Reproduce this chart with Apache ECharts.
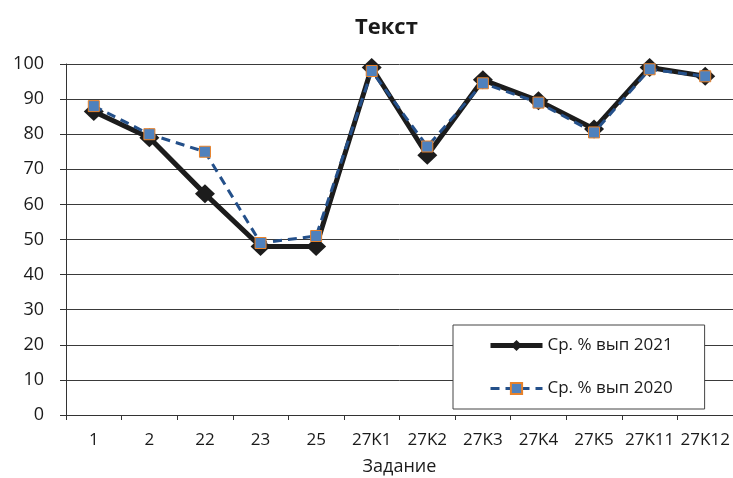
<!DOCTYPE html>
<html>
<head>
<meta charset="utf-8">
<script src="https://cdn.jsdelivr.net/npm/echarts@6/dist/echarts.min.js"></script>
<style>html,body{margin:0;padding:0;background:#fff}#c{width:733px;height:478px}</style>
</head>
<body>
<div id="c"></div>
<script>
const categories = ['1','2','22','23','25','27K1','27K2','27K3','27K4','27K5','27K11','27K12'];
const values2021 = [86.5, 79, 63, 48, 48, 99, 74, 95.5, 89.5, 81.5, 99, 96.5];
const values2020 = [88, 80, 75, 49, 51, 98, 76.5, 94.5, 89, 80.5, 98.5, 96.5];
const yTicks = [0,10,20,30,40,50,60,70,80,90,100];
const seriesNames = ['Ср. % вып 2021', 'Ср. % вып 2020'];

const font = '"Open Sans", "Noto Sans", sans-serif';
const chart = echarts.init(document.getElementById('c'), null, {renderer:'canvas'});
chart.setOption({
  animation: false,
  backgroundColor: '#fff',
  title: {
    text: 'Текст', left: 350, top: 12,
    textStyle: {fontFamily: font, fontSize: 22, fontWeight: 'bold', color: '#1a1a1a'}
  },
  legend: {
    orient: 'vertical', left: 453, top: 325,
    padding: [12, 32, 12, 35], itemGap: 26,
    itemWidth: 52, itemHeight: 14,
    backgroundColor: '#fff', borderColor: '#444', borderWidth: 1,
    textStyle: {fontFamily: font, fontSize: 17, color: '#1a1a1a'},
    data: [
      {name: seriesNames[0], lineStyle: {width: 5, color: '#1c1c1c'}},
      {name: seriesNames[1], lineStyle: {width: 3, color: '#24508a', type: [9, 6]}}
    ]
  },
  grid: {left: 66, right: 0, top: 64, bottom: 63, containLabel: false, outerBoundsMode: 'none'},
  xAxis: {
    type: 'category', data: categories, boundaryGap: true,
    name: 'Задание', nameLocation: 'middle', nameGap: 43,
    nameTextStyle: {fontFamily: font, fontSize: 18, color: '#1a1a1a'},
    axisLine: {lineStyle: {color: '#333', width: 1}},
    axisTick: {show: true, length: 5, alignWithLabel: false, lineStyle: {color: '#333'}},
    axisLabel: {interval: 0, fontFamily: font, fontSize: 17, color: '#1a1a1a', margin: 17}
  },
  yAxis: {
    type: 'value', min: yTicks[0], max: yTicks[yTicks.length-1], interval: 10,
    axisLine: {show: true, lineStyle: {color: '#333', width: 1}},
    axisTick: {show: true, length: 6, lineStyle: {color: '#333'}},
    axisLabel: {fontFamily: font, fontSize: 18, color: '#1a1a1a', margin: 22},
    splitLine: {show: true, lineStyle: {color: '#3a3a3a', width: 1}}
  },
  series: [
    {
      name: seriesNames[0], type: 'line', data: values2021,
      symbol: 'diamond', symbolSize: [20, 19],
      lineStyle: {color: '#1c1c1c', width: 5},
      itemStyle: {color: '#1c1c1c', borderWidth: 0},
      z: 2
    },
    {
      name: seriesNames[1], type: 'line', data: values2020,
      symbol: 'rect', symbolSize: 11,
      lineStyle: {color: '#24508a', width: 3, type: [9, 6]},
      itemStyle: {color: '#4f81bd', borderColor: '#e8822a', borderWidth: 1},
      z: 3
    }
  ]
});
</script>
</body>
</html>
